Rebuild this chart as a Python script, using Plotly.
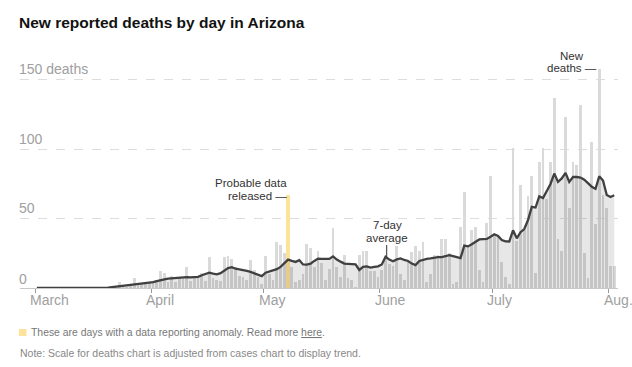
import pandas as pd
import plotly.graph_objects as go

START = "2020-03-01"
deaths = [
    0, 0, 0, 0, 0, 0, 0, 0, 0, 0, 0, 0, 0, 0, 0, 0, 0, 0, 0,
    1, 1, 0, 4, 2, 1, 3, 7, 2, 3, 4, 4,
    5, 6, 12, 11, 4, 9, 4, 8, 8, 15,
    5, 7, 8, 11, 5, 22, 7, 6, 5, 22,
    23, 21, 15, 9, 8, 6, 20, 13, 8, 3,
    23, 10, 6, 33, 31, 25, 67, 15, 4, 6,
    10, 32, 29, 15, 27, 18, 6, 14, 43, 15,
    8, 24, 7, 6, 1, 24, 27, 27, 12, 12,
    8, 13, 22, 17, 16, 30, 10, 6, 20, 26,
    30, 27, 33, 4, 10, 24, 24, 35, 35, 25,
    3, 4, 44, 69, 31, 42, 44, 13, 4, 47,
    81, 39, 37, 19, 8, 3, 101, 34, 74, 42,
    66, 81, 11, 91, 101, 64, 91, 137, 35, 27,
    123, 58, 91, 89, 132, 25, 7, 105, 46, 158,
    67, 58, 16, 16,
]
avg7 = [
    0, 0, 0, 0, 0, 0, 0, 0, 0, 0, 0, 0, 0, 0, 0, 0, 0, 0,
    0.1, 0.3, 0.6, 0.9, 1.2, 1.6, 2.0, 2.2, 2.4, 2.6, 2.9, 3.2, 3.6,
    4.2, 5.0, 5.8, 6.3, 6.8, 7.1, 7.4, 7.6, 7.8, 7.9,
    7.6, 7.7, 8.0, 9.2, 10.0, 11.0, 10.4, 9.9, 10.7, 12.8,
    14.3, 15.0, 13.9, 13.5, 13.2, 12.4, 11.6, 10.6, 9.4, 8.6,
    11.0, 12.0, 12.6, 13.6, 15.2, 17.5, 20.5, 19.6, 18.8, 20.0,
    17.0, 16.8, 17.5, 19.5, 21.2, 21.0, 21.0, 21.0, 22.8, 20.5,
    19.0, 17.6, 17.4, 17.2, 17.0, 13.0, 15.2, 15.6, 14.7, 15.2,
    15.6, 17.0, 22.5, 20.5, 19.3, 20.6, 21.3, 20.2, 19.5, 17.6,
    16.5, 19.5, 20.5, 21.0, 21.3, 22.0, 22.2, 22.2, 23.2, 23.7,
    23.0, 22.0, 21.5, 30.5, 30.0, 31.5, 33.0, 35.0, 35.2, 35.4,
    37.0, 38.7, 37.5, 34.5, 33.6, 33.5, 41.6, 35.8, 40.2, 42.5,
    49.0, 58.5, 58.0, 66.0, 64.8, 70.0, 75.0, 82.5, 76.5, 79.0,
    83.0, 76.5, 80.0, 80.0, 79.6, 78.0, 75.2, 73.0, 71.5, 80.5,
    77.5, 67.0, 65.6, 66.8,
]
anomaly_dates = ["2020-05-07"]
month_ticks = ["2020-03-01", "2020-04-01", "2020-05-01", "2020-06-01", "2020-07-01", "2020-08-01"]
month_labels = ["March", "April", "May", "June", "July", "Aug."]
y_ticks = [0, 50, 100, 150]
y_labels = ["0", "50", "100", "150 deaths"]

dates = pd.date_range(START, periods=len(deaths), freq="D")
centers = dates + pd.Timedelta(hours=12)
anom = set(pd.to_datetime(anomaly_dates))
normal_vals = [None if d in anom else v for d, v in zip(dates, deaths)]
anom_vals = [v if d in anom else None for d, v in zip(dates, deaths)]

W, H = 632, 367
L, R, T, B = 20, 618, 66, 288
FONT = "Liberation Sans"

def px(x):
    return (x - L) / (R - L)

def py(y):
    return (B - y) / (B - T)

fig = go.Figure()
fig.add_trace(go.Bar(x=centers, y=normal_vals, marker_color="#dadada",
                     marker_line_width=0, width=0.74 * 86400000))
fig.add_trace(go.Scatter(x=centers, y=avg7, mode="none", fill="tozeroy",
                         fillcolor="rgba(0,0,0,0.095)", hoverinfo="skip"))
fig.add_trace(go.Bar(x=centers, y=anom_vals, marker_color="#fde29c",
                     marker_line_width=0, width=0.85 * 86400000))
fig.add_trace(go.Scatter(x=centers, y=avg7, mode="lines",
                         line=dict(color="#404040", width=2.3)))

ann = []
ann.append(dict(text="<b>New reported deaths by day in Arizona</b>", x=px(17), y=py(22),
                xref="paper", yref="paper", xanchor="left", yanchor="middle",
                showarrow=False, font=dict(family=FONT, size=15.5, color="#121212")))
ycent = {0: 278.5, 50: 208, 100: 139, 150: 69.5}
for v, lab in zip(y_ticks, y_labels):
    ann.append(dict(text=lab, x=px(17), y=py(ycent[v]), xref="paper", yref="paper",
                    xanchor="left", yanchor="middle", showarrow=False,
                    font=dict(family=FONT, size=14, color="#a0a0a0")))
for d, lab in zip(month_ticks, month_labels):
    ann.append(dict(text=lab, x=d, y=py(300), xref="x", yref="paper",
                    xanchor="left", yanchor="middle", xshift=-7, showarrow=False,
                    font=dict(family=FONT, size=14, color="#a0a0a0")))
notefont = dict(family=FONT, size=11.5, color="#333333")
ann.append(dict(text="Probable data", x=px(289), y=py(183), xref="paper", yref="paper",
                xanchor="right", yanchor="middle", showarrow=False, font=notefont))
ann.append(dict(text="released —", x=px(289), y=py(196), xref="paper", yref="paper",
                xanchor="right", yanchor="middle", showarrow=False, font=notefont))
ann.append(dict(text="7-day", x=px(387), y=py(225), xref="paper", yref="paper",
                xanchor="center", yanchor="middle", showarrow=False, font=notefont))
ann.append(dict(text="average", x=px(387), y=py(238), xref="paper", yref="paper",
                xanchor="center", yanchor="middle", showarrow=False, font=notefont))
ann.append(dict(text="New", x=px(586), y=py(56), xref="paper", yref="paper",
                xanchor="right", yanchor="middle", showarrow=False, font=notefont))
ann.append(dict(text="deaths —", x=px(599), y=py(68), xref="paper", yref="paper",
                xanchor="right", yanchor="middle", showarrow=False, font=notefont))
ann.append(dict(text="These are days with a data reporting anomaly. Read more <u>here</u>.",
                x=px(28.5), y=py(332.5), xref="paper", yref="paper", xanchor="left",
                yanchor="middle", showarrow=False,
                font=dict(family=FONT, size=10.4, color="#777777")))
ann.append(dict(text="Note: Scale for deaths chart is adjusted from cases chart to display trend.",
                x=px(17.5), y=py(353), xref="paper", yref="paper", xanchor="left",
                yanchor="middle", showarrow=False,
                font=dict(family=FONT, size=10.5, color="#888888")))

shapes = [
    dict(type="rect", xref="paper", yref="paper", x0=px(19), x1=px(26.5),
         y0=py(336), y1=py(329), fillcolor="#fde29c", line_width=0),
    dict(type="line", xref="paper", yref="paper", x0=px(386.7), x1=px(386.7),
         y0=py(245), y1=py(257), line=dict(color="#333333", width=1)),
]

fig.update_layout(
    width=W, height=H,
    margin=dict(l=L, r=W - R, t=T, b=H - B),
    paper_bgcolor="white", plot_bgcolor="white",
    showlegend=False, barmode="overlay", bargap=0,
    annotations=ann, shapes=shapes,
    xaxis=dict(type="date", range=["2020-02-26", "2020-08-03 12:00"],
               tickvals=month_ticks, ticktext=month_labels, showticklabels=False,
               ticks="outside", ticklen=4, tickcolor="#999999", tickwidth=1,
               showgrid=False, showline=True, linecolor="#c8c8c8", linewidth=1,
               zeroline=False, fixedrange=True),
    yaxis=dict(range=[0, 160], tickvals=y_ticks, showticklabels=False,
               showgrid=True, gridcolor="#dddddd", griddash="dash", gridwidth=1,
               zeroline=False, showline=False, fixedrange=True),
)
fig.write_html("out.html", config={"displayModeBar": False, "staticPlot": True},
               post_script="document.body.style.margin='0';document.body.style.overflow='hidden';")
